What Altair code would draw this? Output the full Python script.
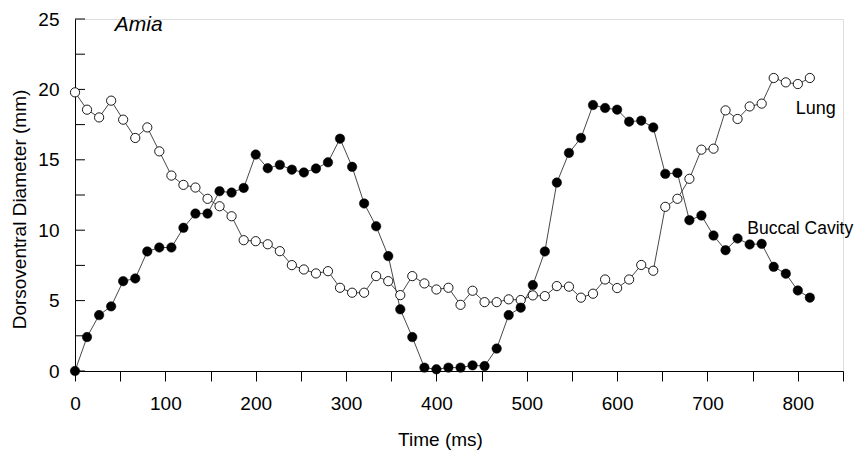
import altair as alt
import pandas as pd

time_ms = [0.0, 13.3, 26.7, 40.0, 53.3, 66.7, 80.0, 93.3, 106.7, 120.0,
           133.3, 146.7, 160.0, 173.3, 186.7, 200.0, 213.3, 226.7, 240.0, 253.3,
           266.7, 280.0, 293.3, 306.7, 320.0, 333.3, 346.7, 360.0, 373.3, 386.7,
           400.0, 413.3, 426.7, 440.0, 453.3, 466.7, 480.0, 493.3, 506.7, 520.0,
           533.3, 546.7, 560.0, 573.3, 586.7, 600.0, 613.3, 626.7, 640.0, 653.3,
           666.7, 680.0, 693.3, 706.7, 720.0, 733.3, 746.7, 760.0, 773.3, 786.7,
           800.0, 813.3]

buccal = [0.0, 2.41, 3.97, 4.59, 6.38, 6.57, 8.49, 8.77, 8.77, 10.17,
          11.18, 11.18, 12.77, 12.67, 13.0, 15.37, 14.4, 14.64, 14.3, 14.1,
          14.38, 14.82, 16.5, 14.5, 11.9, 10.28, 8.16, 4.38, 2.41, 0.24,
          0.12, 0.24, 0.24, 0.40, 0.35, 1.59, 3.97, 4.50, 6.10, 8.49,
          13.38, 15.49, 16.55, 18.89, 18.68, 18.56, 17.71, 17.78, 17.30, 14.0,
          14.07, 10.71, 11.04, 9.62, 8.58, 9.41, 8.99, 9.03, 7.40, 6.91,
          5.72, 5.21]

lung = [19.79, 18.56, 18.01, 19.2, 17.85, 16.55, 17.3, 15.6, 13.88, 13.22,
        13.03, 12.23, 11.70, 10.99, 9.29, 9.22, 9.0, 8.51, 7.52, 7.21,
        6.93, 7.09, 5.91, 5.56, 5.56, 6.74, 6.38, 5.39, 6.74, 6.22,
        5.79, 5.91, 4.70, 5.70, 4.89, 4.89, 5.09, 5.04, 5.37, 5.32,
        6.03, 5.99, 5.21, 5.49, 6.50, 5.89, 6.50, 7.53, 7.12, 11.66,
        12.23, 13.65, 15.72, 15.79, 18.51, 17.9, 18.79, 18.99, 20.81, 20.5,
        20.38, 20.81]

x_ticks = [0, 50, 100, 150, 200, 250, 300, 350, 400, 450, 500, 550, 600, 650, 700, 750, 800, 850]
y_ticks = [0, 2.5, 5, 7.5, 10, 12.5, 15, 17.5, 20, 22.5, 25]

title_text = ["Amia"]
title_x = [44]
title_y = [24.18]
lung_text = ["Lung"]
lung_x = [797.6]
lung_y = [18.28]
buccal_text = ["Buccal Cavity"]
buccal_x = [744]
buccal_y = [9.70]

FONT = "Liberation Sans"

df_b = pd.DataFrame({"t": time_ms, "v": buccal})
df_l = pd.DataFrame({"t": time_ms, "v": lung})
df_yt = pd.DataFrame({"v": y_ticks})

xscale = alt.Scale(domain=[0, 850], nice=False, zero=False)
yscale = alt.Scale(domain=[0, 25], nice=False)

xaxis = alt.Axis(values=x_ticks, labelExpr="datum.value % 100 == 0 ? datum.label : ''",
                 tickSize=10, tickColor="black", domainColor="black", grid=False,
                 labelFont=FONT, labelFontSize=19, labelColor="black", labelPadding=13,
                 title="Time (ms)", titleFont=FONT, titleFontSize=19, titleFontWeight="normal",
                 titleColor="black", titleX=365, titleY=74, titleAlign="center",
                 titleBaseline="alphabetic", labelFlush=False)
yaxis = alt.Axis(values=y_ticks, labelExpr="datum.value % 5 == 0 ? datum.label : ''",
                 ticks=False, domainColor="black", grid=False,
                 labelFont=FONT, labelFontSize=19, labelColor="black", labelPadding=16,
                 title="Dorsoventral Diameter (mm)", titleFont=FONT, titleFontSize=19,
                 titleFontWeight="normal", titleColor="black",
                 titleX=-50, titleY=190, titleAngle=270, titleAlign="center",
                 titleBaseline="alphabetic")

x_enc = alt.X("t:Q", scale=xscale, axis=xaxis)
y_enc = alt.Y("v:Q", scale=yscale, axis=yaxis)

line_b = alt.Chart(df_b).mark_line(color="#333333", strokeWidth=0.9).encode(x=x_enc, y=y_enc)
line_l = alt.Chart(df_l).mark_line(color="#333333", strokeWidth=0.9).encode(x=x_enc, y=y_enc)
pts_l = alt.Chart(df_l).mark_point(shape="circle", filled=True, fill="white", stroke="black",
                                   strokeWidth=0.9, size=85, opacity=1).encode(x=x_enc, y=y_enc)
pts_b = alt.Chart(df_b).mark_point(shape="circle", filled=True, fill="black", stroke="black",
                                   strokeWidth=0.5, size=90, opacity=1).encode(x=x_enc, y=y_enc)

yticks = alt.Chart(df_yt).mark_rule(color="black", strokeWidth=1).encode(
    y=alt.Y("v:Q", scale=yscale), x=alt.value(0), x2=alt.value(10))


def label_layer(texts, xs, ys, size, style):
    df = pd.DataFrame({"text": texts, "t": xs, "v": ys})
    return alt.Chart(df).mark_text(font=FONT, fontStyle=style, fontSize=size, align="left",
                                   baseline="alphabetic", color="black").encode(
        x=alt.X("t:Q", scale=xscale), y=alt.Y("v:Q", scale=yscale), text="text:N")


lab_title = label_layer(title_text, title_x, title_y, 21, "italic")
lab_lung = label_layer(lung_text, lung_x, lung_y, 18, "normal")
lab_buccal = label_layer(buccal_text, buccal_x, buccal_y, 17.5, "normal")

chart = alt.layer(line_l, line_b, yticks, pts_l, pts_b, lab_title, lab_lung, lab_buccal).properties(
    width=768, height=352,
    autosize=alt.AutoSizeParams(type="none"),
    padding={"left": 67, "top": 11, "right": 14, "bottom": 83},
).configure_view(stroke=None).configure(background="white")

chart.save("out.html", embed_options={"renderer": "svg", "actions": False})
